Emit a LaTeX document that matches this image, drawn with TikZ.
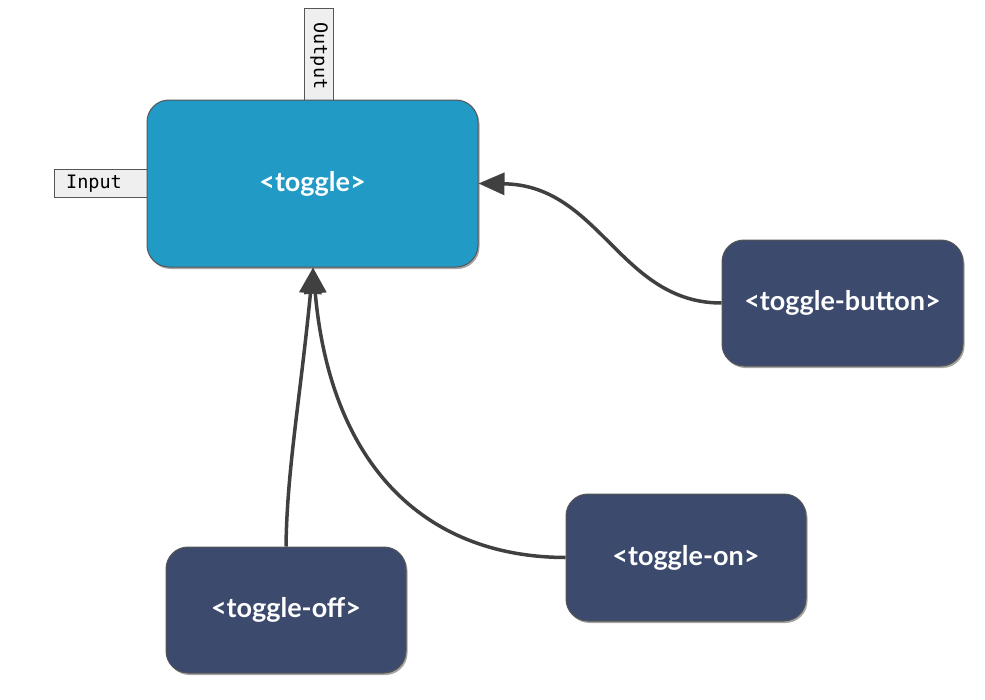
\documentclass[tikz,border=0pt]{standalone}
\usepackage{fontspec}
\setmainfont{Lato}
\setmonofont{DejaVu Sans Mono}
\usetikzlibrary{shadows,arrows.meta,calc}
\definecolor{togblue}{HTML}{229AC6}
\definecolor{navy}{HTML}{3C4A6D}
\definecolor{edge}{HTML}{565656}
\definecolor{arr}{HTML}{404040}
\definecolor{lbl}{HTML}{EFEFEF}
\tikzset{
  comp/.style={draw=edge, line width=1pt, rounded corners=22pt, inner sep=0pt,
    font=\bfseries\fontsize{27}{30}\selectfont, text=white,
    drop shadow={shadow xshift=1.5pt, shadow yshift=-2pt, opacity=0.35, fill=black}},
  port/.style={draw=edge, fill=lbl, line width=0.8pt, inner sep=0pt},
  porttext/.style={font=\ttfamily\fontsize{18.5}{20}\selectfont, inner sep=0pt},
  link/.style={draw=arr, line width=3.5pt, -{Triangle[length=26pt,width=22pt]}}
}
\begin{document}
\begin{tikzpicture}[x=1pt,y=-1pt]
\useasboundingbox (0,0) rectangle (985,699);
% ports
\node[port, minimum width=29pt, minimum height=92pt] (out) at (318.5,54) {};
\node[porttext, rotate=-90] (outt) at (319,56) {Output};
\node[port, minimum width=93pt, minimum height=28pt] (in) at (100.5,183) {};
\node[porttext, anchor=west] (int) at (66,184) {Input};
% components
\node[comp, fill=togblue, minimum width=331pt, minimum height=167pt] (tog) at (312.5,183.5) {<toggle>};
\node[comp, fill=navy, minimum width=241pt, minimum height=126pt] (btn) at (842.5,303) {<toggle-button>};
\node[comp, fill=navy, minimum width=240pt, minimum height=127pt] (on) at (686,557.5) {<toggle-on>};
\node[comp, fill=navy, minimum width=240pt, minimum height=126pt] (off) at (286,610) {<toggle-off>};
% connectors
\draw[link] (btn.west) .. controls (620,303) and (600,185) .. (tog.east);
\draw[link] (off.north) .. controls (287,470) and (300,400) .. ($(tog.south)+(0.5,0)$);
\draw[link] (on.west) .. controls (420,557) and (330,460) .. ($(tog.south)+(0.5,0)$);
\end{tikzpicture}
\end{document}
